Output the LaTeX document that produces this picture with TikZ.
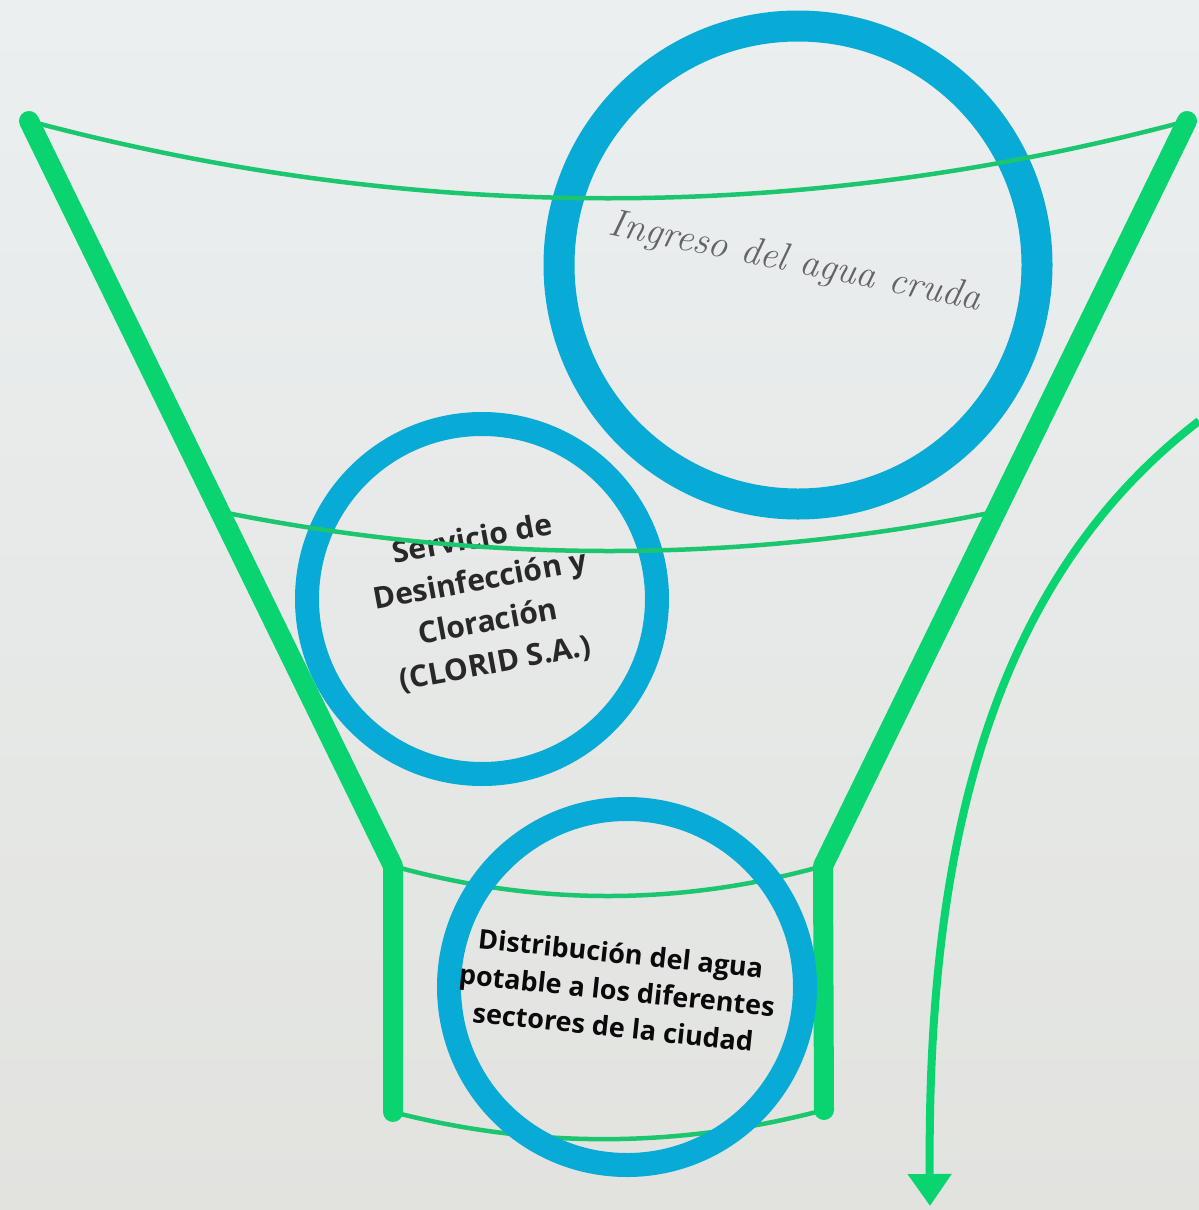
\documentclass[tikz,border=0pt]{standalone}
\usepackage{fontspec}
\newfontfamily\osans{Open Sans}
\usetikzlibrary{arrows.meta}
\definecolor{bgtop}{RGB}{235,239,240}
\definecolor{bgbot}{RGB}{226,227,223}
\definecolor{fgreen}{RGB}{10,212,112}
\definecolor{lgreen}{RGB}{28,198,110}
\definecolor{ringblue}{RGB}{8,170,214}
\definecolor{txtgray}{RGB}{100,100,104}
\definecolor{txtdark}{RGB}{40,40,40}
\definecolor{txtblack}{RGB}{10,10,10}
\newcommand{\scriptlbl}{\fontsize{39}{44}\selectfont\itshape}
\newcommand{\midlbl}{\osans\bfseries\fontsize{30}{42}\selectfont}
\newcommand{\botlbl}{\osans\bfseries\fontsize{27}{37}\selectfont}
\begin{document}
\begin{tikzpicture}[x=1pt,y=-1pt,
  thickline/.style={draw=fgreen,line width=20pt,line cap=round,line join=round},
  thinline/.style={draw=lgreen,line width=4.5pt},
  ring/.style={circle,draw=ringblue,inner sep=0pt},
  lbl/.style={align=center,inner sep=0pt}]
\fill[top color=bgtop,bottom color=bgbot] (0,0) rectangle (1199,1210);
\useasboundingbox (0,0) rectangle (1199,1210);

% funnel corner points
\coordinate (TL) at (29,121);
\coordinate (KL) at (393,866);
\coordinate (BL) at (393,1112);
\coordinate (TR) at (1187,121);
\coordinate (KR) at (823,866);
\coordinate (BR) at (824,1110);
\coordinate (ML) at (222,512);
\coordinate (MR) at (994,512);
\coordinate (AS) at (1199,421);
\coordinate (AE) at (930,1206);

% upper rings
\node[ring,line width=31pt,minimum size=478pt] (c1) at (798,265) {};
\node[ring,line width=24pt,minimum size=350pt] (c2) at (482,599) {};

% labels of upper rings
\node[lbl,font=\scriptlbl,text=txtgray,rotate=-11.5] (t1) at (795,263) {Ingreso del agua cruda};
\node[lbl,font=\midlbl,text=txtdark,rotate=10.5] (t2) at (484,602) {Servicio de\\Desinfección y\\Cloración\\(CLORID S.A.)};

% thin cross lines
\draw[thinline] (TL) .. controls (415,224) and (801,224) .. (TR);
\draw[thinline] (ML) .. controls (481,564) and (738,564) .. (MR);
\draw[thinline] (KL) .. controls (536,906) and (680,906) .. (KR);
\draw[thinline] (BL) .. controls (536,1149) and (680,1148) .. (BR);

% funnel sides
\draw[thickline] (TL) -- (KL) -- (BL);
\draw[thickline] (TR) -- (KR) -- (BR);

% bottom ring
\node[ring,line width=24pt,minimum size=356pt] (c3) at (627,987) {};
\node[lbl,font=\botlbl,text=txtblack,rotate=-6] (t3) at (617,990) {Distribución del agua\\potable a los diferentes\\sectores de la ciudad};

% outgoing arrow
\draw[fgreen,line width=8pt,-{Triangle[width=42pt,length=32pt]}] (AS) .. controls (985,585) and (927,860) .. (AE);
\end{tikzpicture}
\end{document}
